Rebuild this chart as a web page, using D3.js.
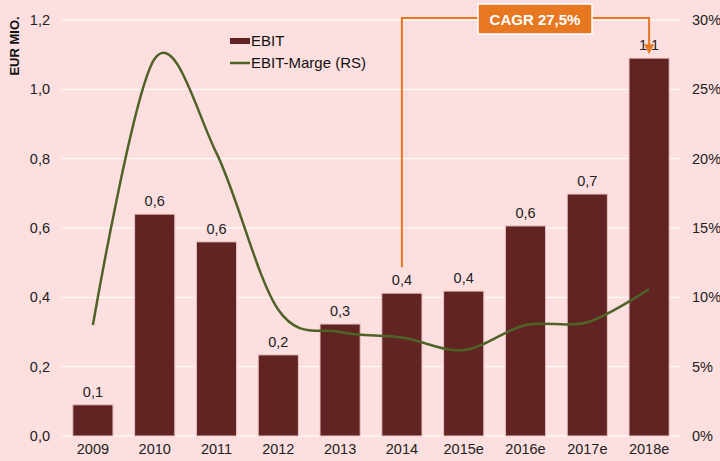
<!DOCTYPE html>
<html>
<head>
<meta charset="utf-8">
<script src="https://cdn.jsdelivr.net/npm/d3@7"></script>
<style>
  body { margin: 0; background: #fddfdf; }
  svg { display: block; font-family: "Liberation Sans", Arial, sans-serif; }
</style>
</head>
<body>
<svg id="canvas" width="720" height="461"></svg>
<script>
// Chart data
let years = ['2009', '2010', '2011', '2012', '2013', '2014', '2015e', '2016e', '2017e', '2018e'];
let ebit = [0.09, 0.64, 0.56, 0.234, 0.323, 0.412, 0.418, 0.606, 0.698, 1.09];
let ebitLabels = ['0,1', '0,6', '0,6', '0,2', '0,3', '0,4', '0,4', '0,6', '0,7', '1,1'];
let marge = [8.0, 27.2, 20.4, 9.1, 7.5, 7.1, 6.2, 8.0, 8.2, 10.6];
let leftTicks = [0, 0.2, 0.4, 0.6, 0.8, 1.0, 1.2];
let rightTicks = [0, 5, 10, 15, 20, 25, 30];
let cagrText = 'CAGR 27,5%';

let width = 720;
let height = 461;
let margin = { top: 20, right: 40, bottom: 25, left: 62 };
let fontSize = 14.5;

let canvas = d3.select('#canvas');

canvas.append('rect')
    .attr('width', width)
    .attr('height', height)
    .attr('fill', '#fddfdf');

// Scales
let xScale = d3.scaleBand()
    .domain(years)
    .range([margin.left, width - margin.right])
    .paddingInner(0.35)
    .paddingOuter(0.175);

let yScale = d3.scaleLinear()
    .domain([0, 1.2])
    .range([height - margin.bottom, margin.top]);

let yRight = d3.scaleLinear()
    .domain([0, 30])
    .range([height - margin.bottom, margin.top]);

let fmt = d3.formatLocale({ decimal: ',', thousands: '.', grouping: [3], currency: ['', ' €'] });

// Gridlines
canvas.append('g')
    .selectAll('line')
    .data(leftTicks)
    .enter()
    .append('line')
    .attr('x1', margin.left)
    .attr('x2', width - margin.right + 1)
    .attr('y1', (d) => yScale(d))
    .attr('y2', (d) => yScale(d))
    .attr('stroke', '#ffffff')
    .attr('stroke-width', 1);

// Left axis
let leftAxis = d3.axisLeft(yScale)
    .tickValues(leftTicks)
    .tickFormat(fmt.format('.1f'))
    .tickSize(0)
    .tickPadding(12);

let gLeft = canvas.append('g')
    .attr('transform', 'translate(' + margin.left + ',0)')
    .call(leftAxis);
gLeft.select('.domain').remove();
gLeft.selectAll('text')
    .attr('font-size', fontSize)
    .attr('fill', '#222')
    .attr('font-family', '"Liberation Sans", Arial, sans-serif');

// Right axis
let rightAxis = d3.axisRight(yRight)
    .tickValues(rightTicks)
    .tickFormat((d) => d + '%')
    .tickSize(0)
    .tickPadding(12);

let gRight = canvas.append('g')
    .attr('transform', 'translate(' + (width - margin.right) + ',0)')
    .call(rightAxis);
gRight.select('.domain').remove();
gRight.selectAll('text')
    .attr('font-size', fontSize)
    .attr('fill', '#222')
    .attr('font-family', '"Liberation Sans", Arial, sans-serif');

// Bottom axis
let bottomAxis = d3.axisBottom(xScale)
    .tickSize(0)
    .tickPadding(8);

let gBottom = canvas.append('g')
    .attr('transform', 'translate(0,' + (height - margin.bottom) + ')')
    .call(bottomAxis);
gBottom.select('.domain').remove();
gBottom.selectAll('text')
    .attr('font-size', fontSize)
    .attr('fill', '#222')
    .attr('font-family', '"Liberation Sans", Arial, sans-serif');

// Y axis title
canvas.append('text')
    .attr('transform', 'translate(19,46) rotate(-90)')
    .attr('text-anchor', 'middle')
    .attr('font-size', 13)
    .attr('font-weight', 'bold')
    .attr('fill', '#111')
    .text('EUR MIO.');

// Bars
canvas.append('g')
    .selectAll('rect')
    .data(years)
    .enter()
    .append('rect')
    .attr('x', (d) => xScale(d))
    .attr('y', (d, i) => yScale(ebit[i]))
    .attr('width', xScale.bandwidth())
    .attr('height', (d, i) => yScale(0) - yScale(ebit[i]))
    .attr('fill', '#612423')
    .attr('stroke', '#e9c4c4')
    .attr('stroke-width', 1);

// Bar labels
canvas.append('g')
    .selectAll('text')
    .data(years)
    .enter()
    .append('text')
    .attr('x', (d) => xScale(d) + xScale.bandwidth() / 2)
    .attr('y', (d, i) => yScale(ebit[i]) - 8)
    .attr('text-anchor', 'middle')
    .attr('font-size', fontSize)
    .attr('fill', '#222')
    .text((d, i) => ebitLabels[i]);

// Margin line
let line = d3.line()
    .x((d, i) => xScale(years[i]) + xScale.bandwidth() / 2)
    .y((d) => yRight(d))
    .curve(d3.curveCardinal.tension(0));

canvas.append('path')
    .datum(marge)
    .attr('d', line)
    .attr('fill', 'none')
    .attr('stroke', '#4f6228')
    .attr('stroke-width', 2.5);

// Legend
let legend = canvas.append('g').attr('transform', 'translate(230,0)');
legend.append('rect')
    .attr('x', 0)
    .attr('y', 38)
    .attr('width', 20)
    .attr('height', 6)
    .attr('fill', '#612423');
legend.append('text')
    .attr('x', 21)
    .attr('y', 46)
    .attr('font-size', 15)
    .attr('fill', '#111')
    .text('EBIT');
legend.append('line')
    .attr('x1', 0)
    .attr('x2', 20)
    .attr('y1', 63)
    .attr('y2', 63)
    .attr('stroke', '#4f6228')
    .attr('stroke-width', 2.5);
legend.append('text')
    .attr('x', 21)
    .attr('y', 68)
    .attr('font-size', 15)
    .attr('fill', '#111')
    .text('EBIT-Marge (RS)');

// CAGR annotation
let orange = '#e87722';
let startX = xScale('2014') + xScale.bandwidth() / 2;
let endX = xScale('2018e') + xScale.bandwidth() / 2;
let topY = 18;

canvas.append('defs')
    .append('marker')
    .attr('id', 'arrow')
    .attr('viewBox', '0 0 10 10')
    .attr('refX', 5)
    .attr('refY', 5)
    .attr('markerWidth', 5)
    .attr('markerHeight', 5)
    .attr('orient', 'auto')
    .append('path')
    .attr('d', 'M0,0 L10,5 L0,10 Z')
    .attr('fill', orange);

canvas.append('path')
    .attr('d', 'M' + startX + ',' + (yScale(ebit[5]) - 26) + ' L' + startX + ',' + topY +
        ' L' + endX + ',' + topY + ' L' + endX + ',' + (yScale(ebit[9]) - 9))
    .attr('fill', 'none')
    .attr('stroke', orange)
    .attr('stroke-width', 2)
    .attr('marker-end', 'url(#arrow)');

canvas.append('rect')
    .attr('x', 478)
    .attr('y', 4)
    .attr('width', 114)
    .attr('height', 30)
    .attr('fill', orange)
    .attr('stroke', '#ffffff')
    .attr('stroke-width', 1.5);

canvas.append('text')
    .attr('x', 535)
    .attr('y', 24.5)
    .attr('text-anchor', 'middle')
    .attr('font-size', 15)
    .attr('font-weight', 'bold')
    .attr('fill', '#ffffff')
    .text(cagrText);
</script>
</body>
</html>
